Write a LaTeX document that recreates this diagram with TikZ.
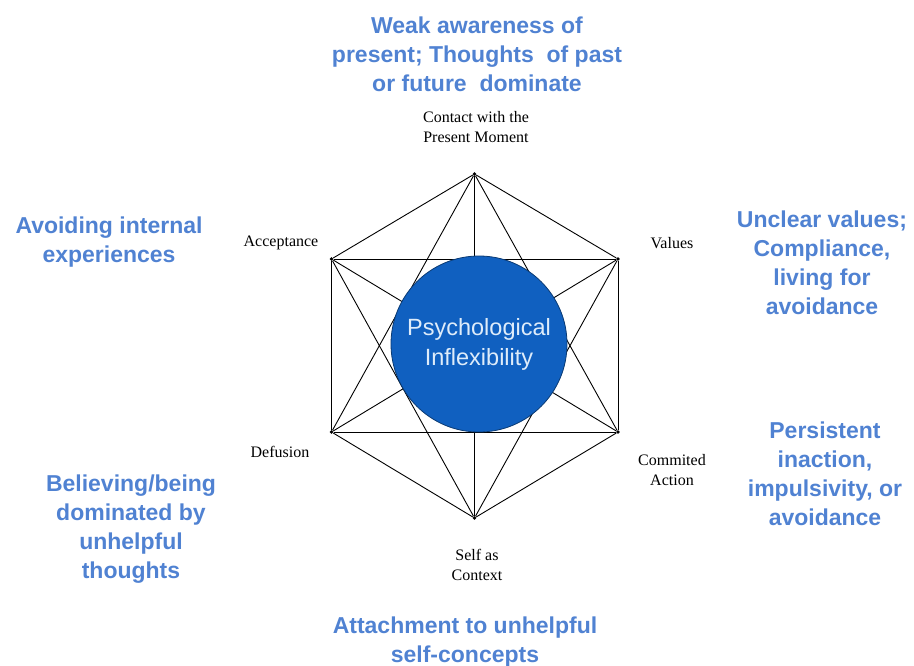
\documentclass[tikz,border=0pt]{standalone}
\usepackage{fontspec}
\setmainfont{Liberation Serif}
\newfontfamily\arialfont{Liberation Sans}
\definecolor{noteblue}{RGB}{80,130,210}
\definecolor{corefill}{RGB}{16,96,192}
\definecolor{coretext}{RGB}{222,236,250}
\begin{document}
\begin{tikzpicture}[x=1pt,y=-1pt,
  vtx/.style={circle,fill=black,inner sep=0pt,minimum size=3.6pt},
  link/.style={draw=black,line width=0.9pt},
  procname/.style={align=center,font=\fontsize{16}{20}\selectfont,inner sep=0pt},
  problem/.style={align=center,text=noteblue,inner sep=0pt,
    font=\arialfont\bfseries\fontsize{23}{29}\selectfont},
  core/.style={circle,fill=corefill,draw=corefill!60!black,line width=0.8pt,
    minimum size=176pt,inner sep=0pt,align=center,text=coretext,
    font=\arialfont\fontsize{23.5}{30}\selectfont}]
\useasboundingbox (0,0) rectangle (914,666);

% hexagon corners, one per process
\node[vtx] (present)  at (474.5,174) {};
\node[vtx] (values)   at (618,259) {};
\node[vtx] (action)   at (618,432) {};
\node[vtx] (self)     at (474.5,518) {};
\node[vtx] (defusion) at (331.5,432) {};
\node[vtx] (accept)   at (331.5,259) {};

% every corner joined to every other corner
\foreach \a/\b in {present/values,present/action,present/self,present/defusion,present/accept,
                   values/action,values/self,values/defusion,values/accept,
                   action/self,action/defusion,action/accept,
                   self/defusion,self/accept,
                   defusion/accept}
  \draw[link] (\a) -- (\b);

% central circle
\node[core] (centre) at (479,344) {Psychological\\Inflexibility};

% process names
\node[procname] (lpresent)  at (476,127) {Contact with the\\Present Moment};
\node[procname] (laccept)   at (281,243) {Acceptance};
\node[procname] (lvalues)   at (672,243) {Values};
\node[procname] (ldefusion) at (280,452) {Defusion};
\node[procname] (laction)   at (672,470) {Commited\\Action};
\node[procname] (lself)     at (477,565) {Self as\\Context};

% inflexibility descriptions
\node[problem] (ppresent)  at (477,54)  {Weak awareness of\\present; Thoughts\ \ of past\\or future\ \ dominate};
\node[problem] (paccept)   at (109,242) {Avoiding internal\\experiences};
\node[problem] (pvalues)   at (822,263) {Unclear values;\\Compliance,\\living for\\avoidance};
\node[problem] (paction)   at (825,474) {Persistent\\inaction,\\impulsivity, or\\avoidance};
\node[problem] (pdefusion) at (131,529) {Believing/being\\dominated by\\unhelpful\\thoughts};
\node[problem] (pself)     at (465,642) {Attachment to unhelpful\\self-concepts};
\end{tikzpicture}
\end{document}
